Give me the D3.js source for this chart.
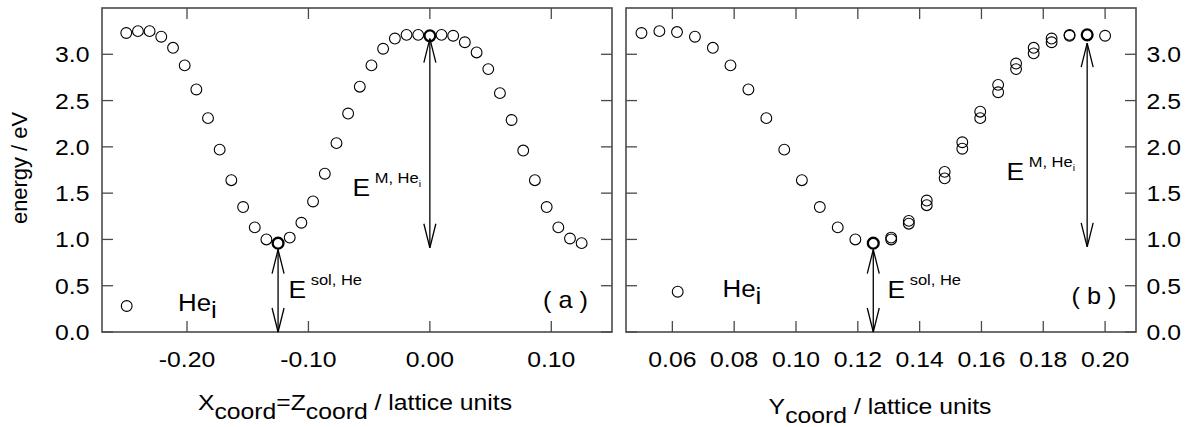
<!DOCTYPE html>
<html><head><meta charset="utf-8">
<script src="https://cdn.jsdelivr.net/npm/d3@7/dist/d3.min.js"></script>
<style>
body{margin:0;background:#fff}
text{font-family:"Liberation Sans",Arial,Helvetica,sans-serif;fill:#000}
</style>
</head><body>
<svg id="chart" width="1190" height="427"></svg>
<script>
// ---------- data ----------
const leftX = [-0.2500,-0.2404,-0.2308,-0.2212,-0.2115,-0.2019,-0.1923,-0.1827,-0.1731,-0.1635,
  -0.1538,-0.1442,-0.1346,-0.1250,-0.1154,-0.1058,-0.0962,-0.0865,-0.0769,-0.0673,
  -0.0577,-0.0481,-0.0385,-0.0288,-0.0192,-0.0096,0.0000,0.0096,0.0192,0.0288,
  0.0385,0.0481,0.0577,0.0673,0.0769,0.0865,0.0962,0.1058,0.1154,0.1250];
const leftE = [3.23,3.25,3.25,3.19,3.07,2.88,2.62,2.31,1.97,1.64,
  1.35,1.13,1.00,0.96,1.02,1.18,1.41,1.71,2.04,2.36,
  2.65,2.88,3.06,3.17,3.21,3.21,3.20,3.21,3.20,3.13,
  3.02,2.84,2.58,2.29,1.96,1.64,1.35,1.13,1.01,0.96];
const leftBold = [13, 26];

const rightX = [0.0500,0.0558,0.0615,0.0673,0.0731,0.0788,0.0846,0.0904,0.0962,0.1019,
  0.1077,0.1135,0.1192,0.1250,0.1308,0.1365,0.1423,0.1481,0.1538,0.1596,
  0.1654,0.1712,0.1769,0.1827,0.1885,0.1942,0.2000];
const rightE = [3.23,3.25,3.24,3.19,3.07,2.88,2.62,2.31,1.97,1.64,
  1.35,1.13,1.00,0.96,1.02,1.20,1.42,1.73,2.05,2.38,
  2.67,2.90,3.07,3.17,3.21,3.21,3.20];
const rightX2 = [0.1308,0.1365,0.1423,0.1481,0.1538,0.1596,0.1654,0.1712,0.1769,0.1827,0.1885,0.1942];
const rightE2 = [1.00,1.17,1.37,1.66,1.98,2.31,2.59,2.84,3.01,3.13,3.20,3.21];
const rightBold = [13, 25];

const yTicks = [0,0.5,1.0,1.5,2.0,2.5,3.0];
const leftXTicks = [-0.20,-0.10,0.00,0.10];
const rightXTicks = [0.06,0.08,0.10,0.12,0.14,0.16,0.18,0.20];

// arrows: [x, yFrom, yTo]
const leftArrows = [[-0.125, 0, 0.89], [0.0, 0.91, 3.17]];
const rightArrows = [[0.125, 0, 0.89], [0.1942, 0.92, 3.12]];

// ---------- drawing ----------
const svg = d3.select("#chart");
const SX = 1.1;           // horizontal stretch of the typeface
const FS = 22.5;
const plotTop = 8, plotBottom = 332;
const y = d3.scaleLinear().domain([0, 3.5]).range([plotBottom, plotTop]);

function label(g, x, yy, parts, anchor, size, rot) {
  const t = g.append("text")
    .attr("transform", rot ? `translate(${x},${yy}) rotate(-90) scale(1.02,1)` : `translate(${x},${yy}) scale(${SX},1)`)
    .attr("text-anchor", anchor || "start")
    .style("font-size", (size||FS) + "px");
  parts.forEach(p => {
    const ts = t.append("tspan").text(p.t);
    if (p.size) ts.style("font-size", p.size + "px");
    if (p.dy) ts.attr("dy", p.dy);
  });
  return t;
}

function arrow(g, x, py1, py2) {
  const L = 24, W = 6;
  g.append("line").attr("x1", x).attr("x2", x).attr("y1", py1).attr("y2", py2)
    .attr("stroke", "#000").attr("stroke-width", 1.3);
  const dir1 = py1 < py2 ? 1 : -1;
  [[py1, dir1], [py2, -dir1]].forEach(([p, d]) => {
    g.append("path")
      .attr("d", `M${x - W},${p + d * L}L${x},${p}L${x + W},${p + d * L}`)
      .attr("fill", "none").attr("stroke", "#000").attr("stroke-width", 1.3);
  });
}

function panel(cfg) {
  const g = svg.append("g");
  const x = d3.scaleLinear().domain(cfg.domain).range([cfg.x0, cfg.x1]);
  const stroke = "#4a4a4a";
  g.append("rect").attr("x", cfg.x0).attr("y", plotTop).attr("width", cfg.x1 - cfg.x0)
    .attr("height", plotBottom - plotTop).attr("fill", "none").attr("stroke", stroke).attr("stroke-width", 1.6);
  const T = 11;
  cfg.xTicks.forEach(v => {
    const px = x(v);
    g.append("line").attr("x1", px).attr("x2", px).attr("y1", plotBottom).attr("y2", plotBottom - T).attr("stroke", stroke).attr("stroke-width", 1.3);
    g.append("line").attr("x1", px).attr("x2", px).attr("y1", plotTop).attr("y2", plotTop + T).attr("stroke", stroke).attr("stroke-width", 1.3);
    label(g, px, 367, [{t: d3.format(".2f")(v).replace("\u2212", "-")}], "middle");
  });
  yTicks.forEach(v => {
    const py = y(v);
    g.append("line").attr("x1", cfg.x0).attr("x2", cfg.x0 + T).attr("y1", py).attr("y2", py).attr("stroke", stroke).attr("stroke-width", 1.3);
    g.append("line").attr("x1", cfg.x1).attr("x2", cfg.x1 - T).attr("y1", py).attr("y2", py).attr("stroke", stroke).attr("stroke-width", 1.3);
    if (cfg.labelSide === "left") label(g, cfg.x0 - 12.5, py + 8, [{t: d3.format(".1f")(v)}], "end");
    else label(g, cfg.x1 + 10.5, py + 8, [{t: d3.format(".1f")(v)}], "start");
  });
  cfg.arrows.forEach(a => arrow(g, x(a[0]), y(a[1]), y(a[2])));
  cfg.series.forEach(s => {
    g.selectAll(null).data(s.x.map((d, i) => [d, s.e[i], i])).enter().append("circle")
      .attr("cx", d => x(d[0])).attr("cy", d => y(d[1])).attr("r", 5.4)
      .attr("fill", "none").attr("stroke", "#000")
      .attr("stroke-width", d => (s.bold && s.bold.includes(d[2])) ? 2.3 : 1.1);
  });
  return {g, x};
}

const L = panel({x0: 102, x1: 612, domain: [-0.27, 0.15], xTicks: leftXTicks, labelSide: "left",
  arrows: leftArrows, series: [{x: leftX, e: leftE, bold: leftBold}]});
const R = panel({x0: 626, x1: 1136, domain: [0.045, 0.21], xTicks: rightXTicks, labelSide: "right",
  arrows: rightArrows, series: [{x: rightX, e: rightE, bold: rightBold}, {x: rightX2, e: rightE2}]});

// legends
svg.append("circle").attr("cx", 126.7).attr("cy", 306).attr("r", 5.4).attr("fill", "none").attr("stroke", "#000").attr("stroke-width", 1.1);
label(svg, 178, 311, [{t: "He"}, {t: "i", dy: 7}], "start", 23.5);
svg.append("circle").attr("cx", 677.7).attr("cy", 291.7).attr("r", 5.4).attr("fill", "none").attr("stroke", "#000").attr("stroke-width", 1.1);
label(svg, 722.5, 297, [{t: "He"}, {t: "i", dy: 7}], "start", 23.5);

// panel tags
label(svg, 543, 307.5, [{t: "( a )"}], "start", 23);
label(svg, 1071.5, 304, [{t: "( b )"}], "start", 23);

// E annotations
label(svg, 288.5, 298, [{t: "E"}, {t: " sol, He", size: 15, dy: -13}], "start", 24);
label(svg, 887.5, 298, [{t: "E"}, {t: " sol, He", size: 15, dy: -13}], "start", 24);
label(svg, 352.5, 196, [{t: "E"}, {t: " M, He", size: 15, dy: -13}, {t: "i", size: 9.5, dy: 4}], "start", 24);
label(svg, 1006.5, 179.5, [{t: "E"}, {t: " M, He", size: 15, dy: -13}, {t: "i", size: 9.5, dy: 4}], "start", 24);

// axis titles
label(svg, 355, 410, [{t: "X"}, {t: "coord", dy: 9}, {t: "=", dy: -9}, {t: "Z"}, {t: "coord", dy: 9}, {t: " / lattice units", dy: -9}], "middle", 22.5);
label(svg, 880, 414, [{t: "Y"}, {t: "coord", dy: 9}, {t: " / lattice units", dy: -9}], "middle", 22.5);
label(svg, 27, 168, [{t: "energy / eV"}], "middle", 21.5, true);
</script>
</body></html>
